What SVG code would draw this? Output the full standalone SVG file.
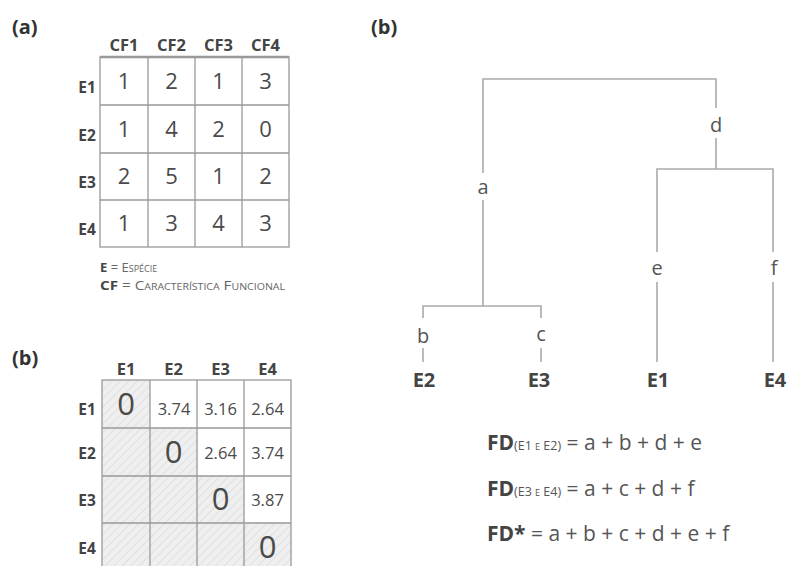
<svg xmlns="http://www.w3.org/2000/svg" width="789" height="566" viewBox="0 0 789 566">
<style>
text{font-family:"Open Sans","Noto Sans","DejaVu Sans",sans-serif;fill:#444}
.lbl{font-weight:bold;font-size:20px;fill:#333}
.hd{font-weight:bold;font-size:16.5px;text-anchor:middle;fill:#444}
.rl{font-weight:bold;font-size:15.5px;text-anchor:middle;fill:#444}
.num{font-size:22px;text-anchor:middle;fill:#4a4a4a}
.zero{font-size:31px;text-anchor:middle;fill:#4a4a4a}
.dec{font-size:16.5px;text-anchor:middle;fill:#4a4a4a}
.grid{stroke:#999;stroke-width:1.3;fill:none}
.br{stroke:#aaa;stroke-width:1.6;fill:none}
.nl{font-size:20px;text-anchor:middle;fill:#555}
.leaf{font-weight:bold;font-size:20px;text-anchor:middle;fill:#444}
.fd{font-size:21px;fill:#555}
.fdb{font-weight:bold;fill:#444}
.sub{font-size:12.5px;font-variant:small-caps;fill:#555}
.leg{font-size:13px;font-variant:small-caps;fill:#666}
</style>
<defs>
<pattern id="hatch" width="6" height="6" patternUnits="userSpaceOnUse" patternTransform="rotate(45)">
<rect width="6" height="6" fill="#efefef"/>
<line x1="0" y1="0" x2="0" y2="6" stroke="#dcdcdc" stroke-width="1.5"/>
</pattern>
</defs>

<text class="lbl" x="12" y="34">(a)</text>
<text class="lbl" x="12" y="365">(b)</text>
<text class="lbl" x="371" y="34">(b)</text>

<g id="table-a">
<g class="grid">
<rect x="100" y="57" width="189" height="190"/>
<line x1="148" y1="57" x2="148" y2="247"/>
<line x1="195" y1="57" x2="195" y2="247"/>
<line x1="242" y1="57" x2="242" y2="247"/>
<line x1="100" y1="105" x2="289" y2="105"/>
<line x1="100" y1="153" x2="289" y2="153"/>
<line x1="100" y1="200" x2="289" y2="200"/>
</g>
<line x1="100" y1="57" x2="289" y2="57" stroke="#999" stroke-width="2.5"/>
<text class="hd" x="124" y="51">CF1</text>
<text class="hd" x="171.5" y="51">CF2</text>
<text class="hd" x="218.5" y="51">CF3</text>
<text class="hd" x="265.5" y="51">CF4</text>
<text class="rl" x="87" y="93">E1</text>
<text class="rl" x="87" y="141">E2</text>
<text class="rl" x="87" y="188">E3</text>
<text class="rl" x="87" y="235">E4</text>
<text class="num" x="124" y="89">1</text><text class="num" x="171.5" y="89">2</text><text class="num" x="218.5" y="89">1</text><text class="num" x="265.5" y="89">3</text>
<text class="num" x="124" y="137">1</text><text class="num" x="171.5" y="137">4</text><text class="num" x="218.5" y="137">2</text><text class="num" x="265.5" y="137">0</text>
<text class="num" x="124" y="184">2</text><text class="num" x="171.5" y="184">5</text><text class="num" x="218.5" y="184">1</text><text class="num" x="265.5" y="184">2</text>
<text class="num" x="124" y="231">1</text><text class="num" x="171.5" y="231">3</text><text class="num" x="218.5" y="231">4</text><text class="num" x="265.5" y="231">3</text>
</g>

<g id="legend">
<text class="leg" x="100" y="272"><tspan font-weight="bold" fill="#444">E</tspan> = Espécie</text>
<text class="leg" x="100" y="290" textLength="185" lengthAdjust="spacingAndGlyphs"><tspan font-weight="bold" fill="#444">CF</tspan> = Característica Funcional</text>
</g>

<g id="table-b">
<rect x="102" y="380" width="48" height="48" fill="url(#hatch)"/>
<rect x="102" y="428" width="95" height="48" fill="url(#hatch)"/>
<rect x="102" y="476" width="142" height="47" fill="url(#hatch)"/>
<rect x="102" y="523" width="189" height="48" fill="url(#hatch)"/>
<g class="grid">
<rect x="102" y="380" width="189" height="191"/>
<line x1="150" y1="380" x2="150" y2="571"/>
<line x1="197" y1="380" x2="197" y2="571"/>
<line x1="244" y1="380" x2="244" y2="571"/>
<line x1="102" y1="428" x2="291" y2="428"/>
<line x1="102" y1="476" x2="291" y2="476"/>
<line x1="102" y1="523" x2="291" y2="523"/>
</g>
<text class="hd" x="126" y="375">E1</text>
<text class="hd" x="173.5" y="375">E2</text>
<text class="hd" x="220.5" y="375">E3</text>
<text class="hd" x="267.5" y="375">E4</text>
<text class="rl" x="87" y="415">E1</text>
<text class="rl" x="87" y="459">E2</text>
<text class="rl" x="87" y="506">E3</text>
<text class="rl" x="87" y="554">E4</text>
<text class="zero" x="126" y="415">0</text>
<text class="dec" x="174" y="415">3.74</text><text class="dec" x="220.5" y="415">3.16</text><text class="dec" x="267.5" y="415">2.64</text>
<text class="zero" x="173.5" y="463">0</text>
<text class="dec" x="220.5" y="459">2.64</text><text class="dec" x="267.5" y="459">3.74</text>
<text class="zero" x="220.5" y="510">0</text>
<text class="dec" x="267.5" y="506">3.87</text>
<text class="zero" x="267.5" y="558">0</text>
</g>

<g id="connectors" class="br">
<polyline points="483,173 483,79 716,79 716,108"/>
<line x1="483" y1="200" x2="483" y2="306"/>
<line x1="716" y1="138" x2="716" y2="169"/>
<polyline points="657,252 657,169 773,169 773,252"/>
<line x1="657" y1="282" x2="657" y2="362"/>
<line x1="773" y1="282" x2="773" y2="362"/>
<polyline points="423,318 423,306 541,306 541,318"/>
<line x1="423" y1="348" x2="423" y2="362"/>
<line x1="541" y1="348" x2="541" y2="362"/>
</g>

<g id="node-a"><text class="nl" x="483" y="194">a</text></g>
<g id="node-d"><text class="nl" x="716" y="132">d</text></g>
<g id="node-e"><text class="nl" x="657" y="275">e</text></g>
<g id="node-f"><text class="nl" x="774" y="275">f</text></g>
<g id="node-b"><text class="nl" x="423" y="343">b</text></g>
<g id="node-c"><text class="nl" x="541" y="341">c</text></g>
<g id="leaf-E2"><text class="leaf" x="424" y="387">E2</text></g>
<g id="leaf-E3"><text class="leaf" x="539" y="387">E3</text></g>
<g id="leaf-E1"><text class="leaf" x="658" y="387">E1</text></g>
<g id="leaf-E4"><text class="leaf" x="775" y="387">E4</text></g>

<g id="formulas">
<text class="fd" x="487" y="450"><tspan class="fdb">FD</tspan><tspan class="sub">(E1 e E2)</tspan> = a + b + d + e</text>
<text class="fd" x="487" y="496"><tspan class="fdb">FD</tspan><tspan class="sub">(E3 e E4)</tspan> = a + c + d + f</text>
<text class="fd" x="487" y="541"><tspan class="fdb">FD*</tspan> = a + b + c + d + e + f</text>
</g>
</svg>
